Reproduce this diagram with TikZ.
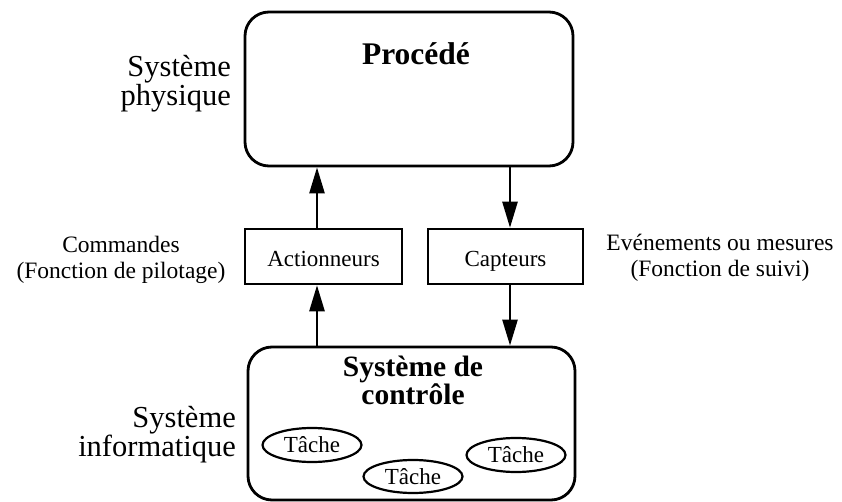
\documentclass[tikz,border=0pt]{standalone}
\usepackage{fontspec}
\setmainfont{Liberation Serif}
\usetikzlibrary{shapes.geometric,arrows.meta}

\tikzset{
  bigbox/.style={draw, line width=2.8pt, rounded corners=24pt, inner sep=0pt},
  smallbox/.style={draw, line width=2.5pt, inner sep=0pt,
    minimum height=55pt, text height=21pt, text depth=0pt,
    font=\fontsize{23pt}{25pt}\selectfont},
  tache/.style={draw, ellipse, line width=2.2pt, inner sep=0pt,
    minimum width=99pt, minimum height=34pt,
    font=\fontsize{23pt}{25pt}\selectfont},
  sidelabel/.style={align=right, inner sep=0pt, anchor=east,
    font=\fontsize{30.5pt}{27pt}\selectfont},
  flowlabel/.style={align=center, inner sep=0pt,
    font=\fontsize{23.5pt}{26pt}\selectfont},
  boxtitle/.style={inner sep=0pt, font=\bfseries\fontsize{31.5pt}{26pt}\selectfont},
  arr/.style={line width=2.5pt, -{Triangle[length=26pt, width=15pt]}}
}

\begin{document}
\begin{tikzpicture}[x=1pt, y=-1pt]
  \useasboundingbox (0,0) rectangle (842,502);

  % physical process
  \node[bigbox, minimum width=328pt, minimum height=154pt] (proc) at (409,89) {};
  \node[boxtitle, anchor=base] (proct) at (416,65) {Procédé};
  \node[sidelabel] (phys) at (231,84) {Système\\physique};

  % actuators and sensors
  \node[smallbox, minimum width=157pt] (act) at (323.5,256.5) {Actionneurs};
  \node[smallbox, minimum width=155pt] (cap) at (505.5,256.5) {Capteurs};

  % control system
  \node[bigbox, minimum width=327pt, minimum height=153pt] (ctrl) at (411.5,423.5) {};
  \node[boxtitle, align=center, font=\bfseries\fontsize{29.5pt}{26pt}\selectfont]
    (ctrlt) at (413,380.5) {Système de\\contrôle};
  \node[sidelabel] (info) at (236,435) {Système\\informatique};

  \node[tache] (t1) at (312,445) {Tâche};
  \node[tache, minimum height=33pt] (t2) at (413,476.5) {Tâche};
  \node[tache] (t3) at (516,455) {Tâche};

  % flow labels
  \node[flowlabel] (cmd) at (121,260) {Commandes\\(Fonction de pilotage)};
  \node[flowlabel] (evt) at (720,258) {Evénements ou mesures\\(Fonction de suivi)};

  % connectors
  \coordinate (ax) at (317,0);
  \coordinate (cx) at (510,0);
  \draw[arr] (ctrl.north -| ax) -- (act.south -| ax);
  \draw[arr] (act.north -| ax) -- (proc.south -| ax);
  \draw[arr] (proc.south -| cx) -- (cap.north -| cx);
  \draw[arr] (cap.south -| cx) -- (ctrl.north -| cx);
\end{tikzpicture}
\end{document}
